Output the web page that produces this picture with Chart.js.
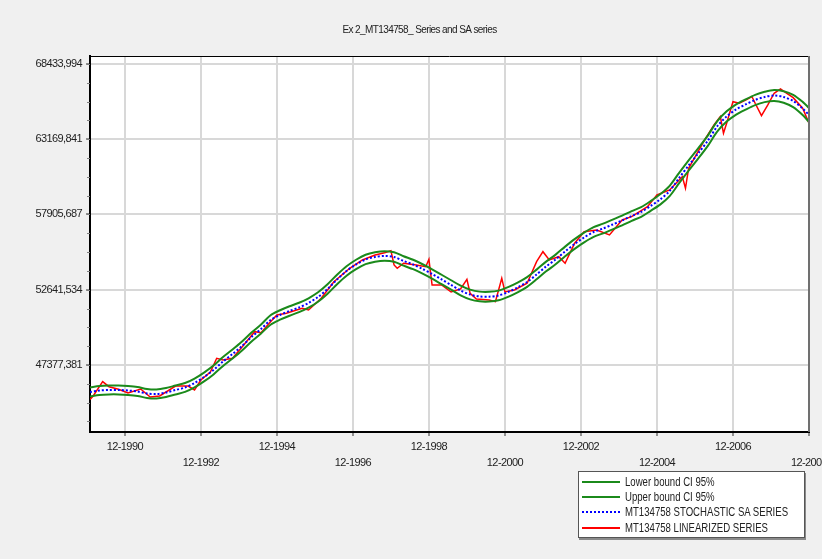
<!DOCTYPE html>
<html>
<head>
<meta charset="utf-8">
<script src="https://cdn.jsdelivr.net/npm/chart.js@4.4.1/dist/chart.umd.min.js"></script>
<style>
    html, body { margin: 0; padding: 0; background: #f0f0f0; }
    #wrap { position: relative; width: 822px; height: 559px; overflow: hidden; }
    #legend {
        position: absolute; left: 578px; top: 471px; width: 227px; height: 67px;
        box-sizing: border-box; background: #fff; border: 1px solid #555;
        box-shadow: 1px 2px 0 #8a8a8a; padding-top: 2px;
        font: 12px 'Liberation Sans', Arial, sans-serif; color: #222;
    }
    .row { display: flex; align-items: center; height: 15.3px; white-space: nowrap; }
    .swatch { width: 38px; margin: 0 5px 0 3px; border-top: 2px solid; flex: none; }
    .txt { display: inline-block; transform: scaleX(0.8); transform-origin: left center; }
</style>
</head>
<body>
<div id="wrap">
    <canvas id="chart" width="822" height="559"></canvas>
    <div id="legend"></div>
</div>
<script>
const FONT = "'Liberation Sans', Arial, sans-serif";

// months counted from Jan 1990
const xTickMonths = [11, 35, 59, 83, 107, 131, 155, 179, 203, 227];
const xTickLabels = ['12-1990', '12-1992', '12-1994', '12-1996', '12-1998',
                     '12-2000', '12-2002', '12-2004', '12-2006', '12-2008'];
const yTickValues = [47377.381, 52641.534, 57905.687, 63169.841, 68433.994];

const bandMonths = [0, 3, 6, 9, 12, 15, 18, 21, 24, 27, 30, 33, 36, 39, 42, 45, 48, 51, 54, 57,
    60, 63, 66, 69, 72, 75, 78, 81, 84, 87, 90, 93, 96, 99, 102, 105, 108, 111, 114, 117,
    120, 123, 126, 129, 132, 135, 138, 141, 144, 147, 150, 153, 156, 159, 162, 165, 168, 171, 174, 177,
    180, 183, 186, 189, 192, 195, 198, 201, 204, 207, 210, 213, 216, 219, 222, 225, 227];

const saSeries = [45489, 45593, 45629, 45629, 45593, 45524, 45384, 45349, 45454, 45629,
    45803, 46118, 46538, 47028, 47622, 48147, 48706, 49336, 49896, 50525,
    50875, 51155, 51400, 51715, 52134, 52694, 53359, 53953, 54408, 54758,
    54933, 55003, 54933, 54653, 54408, 54093, 53743, 53359, 52974, 52589,
    52309, 52169, 52155, 52239, 52484, 52799, 53184, 53708, 54268, 54758,
    55317, 55842, 56297, 56681, 56926, 57206, 57486, 57801, 58081, 58500,
    58955, 59550, 60459, 61333, 62173, 63047, 64062, 64761, 65251, 65601,
    65915, 66125, 66230, 66125, 65845, 65321, 64866];

const upperBound = [45799, 45903, 45939, 45939, 45903, 45834, 45694, 45659, 45764, 45939,
    46113, 46428, 46848, 47338, 47932, 48457, 49016, 49646, 50206, 50855,
    51205, 51485, 51730, 52045, 52464, 53024, 53689, 54283, 54738, 55088,
    55263, 55333, 55263, 54983, 54738, 54423, 54073, 53689, 53304, 52929,
    52649, 52509, 52495, 52579, 52824, 53139, 53524, 54048, 54608, 55098,
    55657, 56182, 56637, 57021, 57266, 57546, 57826, 58141, 58421, 58840,
    59315, 59910, 60819, 61693, 62533, 63407, 64422, 65121, 65611, 65961,
    66275, 66485, 66610, 66525, 66275, 65781, 65356];

const lowerBound = [45179, 45283, 45319, 45319, 45283, 45214, 45074, 45039, 45144, 45319,
    45493, 45808, 46228, 46718, 47312, 47837, 48396, 49026, 49586, 50195,
    50545, 50825, 51070, 51385, 51804, 52364, 53029, 53623, 54078, 54428,
    54603, 54673, 54603, 54323, 54078, 53763, 53413, 53029, 52644, 52249,
    51969, 51829, 51815, 51899, 52144, 52459, 52844, 53368, 53928, 54418,
    54977, 55502, 55957, 56341, 56586, 56866, 57146, 57461, 57741, 58160,
    58595, 59190, 60099, 60973, 61813, 62687, 63702, 64401, 64891, 65241,
    65555, 65765, 65850, 65725, 65415, 64861, 64376];

const linMonths = [0, 1, 4, 6, 9, 12, 16, 19, 22, 27, 31, 33, 35, 38, 40, 42, 45, 48, 52, 54,
    57, 59, 62, 67, 69, 73, 77, 82, 86, 90, 93, 95, 96, 97, 99, 103, 106, 107, 108, 111,
    114, 117, 119, 120, 122, 126, 128, 130, 131, 134, 138, 141, 143, 145, 148, 150, 153, 156, 160, 164,
    168, 171, 176, 179, 183, 187, 188, 189, 194, 197, 199, 200, 201, 203, 205, 207, 209, 210, 212, 214,
    216, 218, 220, 222, 225, 227];

const linSeries = [44964, 45209, 46209, 45859, 45678, 45419, 45698, 45139, 45209, 45908,
    45908, 45628, 46328, 46888, 47846, 47727, 47846, 48637, 49707, 49637,
    50406, 50875, 50994, 51344, 51225, 52043, 53205, 54142, 54723, 55072,
    55233, 55373, 54373, 54142, 54492, 54373, 54254, 54772, 52974, 52974,
    52484, 52694, 53372, 52393, 51994, 51925, 51806, 53442, 52484, 52624,
    53093, 54604, 55303, 54723, 54954, 54492, 55891, 56702, 56821, 56472,
    57521, 57752, 58451, 59270, 59620, 60550, 59738, 61138, 63098, 64167,
    64747, 63586, 64286, 65797, 65685, 65915, 66146, 65685, 64817, 65566,
    66384, 66685, 66384, 66076, 65335, 64286];

const toPoints = (xs, ys) => xs.map((x, i) => ({ x: x, y: ys[i] }));

const framePlugin = {
    id: 'frame',
    beforeDraw(chart) {
        const { ctx, chartArea: a } = chart;
        ctx.save();
        ctx.fillStyle = '#ffffff';
        ctx.fillRect(a.left, a.top, a.right - a.left, a.bottom - a.top);
        ctx.restore();
        // the original labels are a narrow face; tighten the spacing a bit
        if ('letterSpacing' in ctx) ctx.letterSpacing = '-0.6px';
    },
    afterDraw(chart) {
        const { ctx, chartArea: a } = chart;
        const y = chart.scales.y;
        ctx.save();
        // minor ticks on the value axis
        const step = (yTickValues[1] - yTickValues[0]) / 4;
        ctx.strokeStyle = '#808080';
        ctx.lineWidth = 1;
        for (let v = yTickValues[0] - step * 20; v < y.max; v += step) {
            if (v < y.min) continue;
            const py = Math.round(y.getPixelForValue(v)) + 0.5;
            ctx.beginPath();
            ctx.moveTo(a.left - 3, py);
            ctx.lineTo(a.left, py);
            ctx.stroke();
        }
        // top and right frame
        ctx.strokeStyle = '#000';
        ctx.beginPath();
        ctx.moveTo(a.left, a.top + 0.5);
        ctx.lineTo(a.right, a.top + 0.5);
        ctx.stroke();
        ctx.strokeStyle = '#707070';
        ctx.lineWidth = 2;
        ctx.beginPath();
        ctx.moveTo(a.right, a.top);
        ctx.lineTo(a.right, a.bottom);
        ctx.stroke();
        ctx.restore();
    }
};

const datasets = [
    {
        label: 'Lower bound CI 95%',
        data: toPoints(bandMonths, lowerBound),
        borderColor: '#1b8a1b', borderWidth: 2, tension: 0.3, order: 2
    },
    {
        label: 'Upper bound CI 95%',
        data: toPoints(bandMonths, upperBound),
        borderColor: '#1b8a1b', borderWidth: 2, tension: 0.3, order: 2
    },
    {
        label: 'MT134758 STOCHASTIC SA SERIES',
        data: toPoints(bandMonths, saSeries),
        borderColor: '#0000ff', borderWidth: 2, borderDash: [2, 2], tension: 0.3, order: 1
    },
    {
        label: 'MT134758 LINEARIZED SERIES',
        data: toPoints(linMonths, linSeries),
        borderColor: '#ff0000', borderWidth: 1.5, tension: 0, order: 3
    }
];

const chart = new Chart(document.getElementById('chart'), {
    type: 'line',
    data: { datasets: datasets },
    options: {
        responsive: false,
        animation: false,
        events: [],
        elements: { point: { radius: 0 } },
        layout: { padding: { left: 30, right: 13, top: 0, bottom: 0 } },
        plugins: {
            legend: { display: false },
            tooltip: { enabled: false },
            title: {
                display: true,
                text: 'Ex 2_MT134758_ Series and SA series',
                color: '#222',
                font: { family: FONT, size: 10, weight: 'normal' },
                padding: { top: 24, bottom: 20 }
            }
        },
        scales: {
            x: {
                type: 'linear',
                min: 0,
                max: 227,
                afterBuildTicks: (scale) => { scale.ticks = xTickMonths.map(v => ({ value: v })); },
                afterFit: (scale) => { scale.height = 127; scale.paddingLeft = 0; scale.paddingRight = 0; },
                ticks: {
                    color: '#222',
                    font: { family: FONT, size: 11, lineHeight: 1.45 },
                    padding: 3,
                    maxRotation: 0,
                    autoSkip: false,
                    callback: (value, index) => index % 2 ? ['', xTickLabels[index]] : xTickLabels[index]
                },
                grid: { color: '#d8d8d8', lineWidth: 2, tickColor: '#909090', tickLength: 4 },
                border: { color: '#000', width: 2 }
            },
            y: {
                min: 42690,
                max: 68990,
                afterBuildTicks: (scale) => { scale.ticks = yTickValues.map(v => ({ value: v })); },
                afterFit: (scale) => { scale.width = 60; scale.paddingTop = 0; scale.paddingBottom = 0; },
                ticks: {
                    color: '#222',
                    font: { family: FONT, size: 11 },
                    padding: 4,
                    callback: (value) => value.toFixed(3).replace('.', ',')
                },
                grid: { color: '#d8d8d8', lineWidth: 2, tickColor: '#909090', tickLength: 4 },
                border: { color: '#000', width: 2 }
            }
        }
    },
    plugins: [framePlugin]
});

// legend box under the plot, built from the datasets
const legend = document.getElementById('legend');
chart.data.datasets.forEach(ds => {
    const row = document.createElement('div');
    row.className = 'row';
    const sw = document.createElement('span');
    sw.className = 'swatch';
    sw.style.borderTopColor = ds.borderColor;
    if (ds.borderDash) sw.style.borderTopStyle = 'dotted';
    const txt = document.createElement('span');
    txt.className = 'txt';
    txt.textContent = ds.label;
    row.appendChild(sw);
    row.appendChild(txt);
    legend.appendChild(row);
});
</script>
</body>
</html>
